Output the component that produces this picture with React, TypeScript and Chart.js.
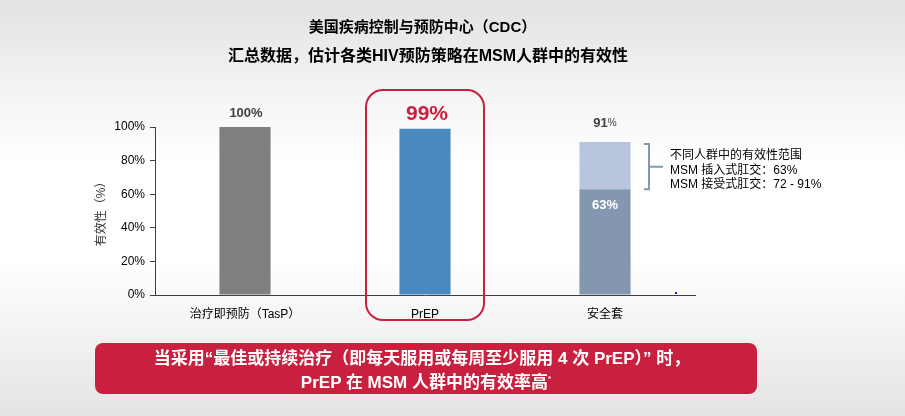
import { useEffect, useRef } from "react"
import { Chart, registerables } from "chart.js"

Chart.register(...registerables)

const categories = ["治疗即预防（TasP）", "PrEP", "安全套"]
const baseValues = [100, 99, 63]
const rangeValues = [null, null, 28]
const yTicks = [0, 20, 40, 60, 80, 100]
const rangeNotes = ["不同人群中的有效性范围", "MSM 插入式肛交：63%", "MSM 接受式肛交：72 - 91%"]

const FONT = "'Liberation Sans', 'Noto Sans CJK SC', sans-serif"
const RED = "#C8203E"

const overlayPlugin = {
  id: "overlay",
  afterDatasetsDraw(chart: any) {
    const { ctx, chartArea, scales } = chart
    const x = scales.x
    const y = scales.y
    ctx.save()
    ctx.textAlign = "center"
    ctx.textBaseline = "middle"

    // total labels above the bars
    const totals = baseValues.map((v, i) => v + (rangeValues[i] ?? 0))
    const x0 = x.getPixelForValue(0)
    ctx.fillStyle = "#404040"
    ctx.font = `bold 13px ${FONT}`
    ctx.fillText(`${totals[0]}%`, x0 + 1, y.getPixelForValue(totals[0]) - 14)

    const x1 = x.getPixelForValue(1)
    ctx.fillStyle = RED
    ctx.font = `bold 21px ${FONT}`
    ctx.fillText(`${totals[1]}%`, x1 + 2, y.getPixelForValue(totals[1]) - 14)

    const x2 = x.getPixelForValue(2)
    const ty = y.getPixelForValue(totals[2]) - 19
    ctx.font = `bold 13px ${FONT}`
    const numW = ctx.measureText(`${totals[2]}`).width
    ctx.font = `10px ${FONT}`
    const pW = ctx.measureText("%").width
    ctx.textAlign = "left"
    ctx.fillStyle = "#404040"
    ctx.font = `bold 13px ${FONT}`
    ctx.fillText(`${totals[2]}`, x2 - (numW + pW) / 2, ty)
    ctx.font = `10px ${FONT}`
    ctx.fillText("%", x2 - (numW + pW) / 2 + numW, ty)

    ctx.textAlign = "center"
    ctx.fillStyle = "#ffffff"
    ctx.font = `bold 13px ${FONT}`
    ctx.fillText(`${baseValues[2]}%`, x2, y.getPixelForValue(baseValues[2]) + 16)

    // red rounded frame around PrEP
    ctx.strokeStyle = RED
    ctx.lineWidth = 2
    ctx.beginPath()
    ctx.roundRect(x1 - 59, chartArea.top - 37, 118, chartArea.bottom - chartArea.top + 62, 17)
    ctx.stroke()

    // bracket next to the condom range
    const bTop = y.getPixelForValue(totals[2]) + 2
    const bBot = y.getPixelForValue(baseValues[2])
    const bx = x2 + 44
    ctx.strokeStyle = "#8497B0"
    ctx.lineWidth = 2
    ctx.beginPath()
    ctx.moveTo(bx - 5, bTop)
    ctx.lineTo(bx, bTop)
    ctx.lineTo(bx, bBot)
    ctx.lineTo(bx - 5, bBot)
    ctx.moveTo(bx, (bTop + bBot) / 2)
    ctx.lineTo(bx + 14, (bTop + bBot) / 2)
    ctx.stroke()

    ctx.textAlign = "left"
    ctx.fillStyle = "#000000"
    ctx.font = `12px ${FONT}`
    rangeNotes.forEach((t, i) => ctx.fillText(t, bx + 21, bTop + 12 + i * 14.5))

    ctx.fillStyle = "#2020e0"
    ctx.fillRect(x2 + 70, chartArea.bottom - 3, 2, 2)
    ctx.restore()
  },
}

const App = () => {
  const chartRef = useRef<HTMLCanvasElement>(null)
  const chartInstance = useRef<Chart | null>(null)

  useEffect(() => {
    if (!chartRef.current) return
    if (chartInstance.current) chartInstance.current.destroy()

    chartInstance.current = new Chart(chartRef.current, {
      type: "bar",
      data: {
        labels: categories,
        datasets: [
          {
            data: baseValues,
            backgroundColor: ["#7F7F7F", "#4A88C0", "#8497B0"],
            categoryPercentage: 1,
            barPercentage: 0.284,
          },
          {
            data: rangeValues,
            backgroundColor: "#B9C4DD",
            categoryPercentage: 1,
            barPercentage: 0.284,
          },
        ],
      },
      options: {
        animation: false,
        responsive: false,
        devicePixelRatio: 1,
        layout: { padding: { left: 86, right: 210, top: 127, bottom: 91 } },
        plugins: { legend: { display: false }, tooltip: { enabled: false } },
        scales: {
          x: {
            stacked: true,
            afterFit: (s: any) => {
              s.height = 30
            },
            grid: { display: false },
            border: { display: true, color: "#404040", width: 1 },
            ticks: { color: "#000", font: { family: FONT, size: 12 }, padding: 4 },
          },
          y: {
            stacked: true,
            min: 0,
            max: 100,
            afterFit: (s: any) => {
              s.width = 69
            },
            afterBuildTicks: (s: any) => {
              s.ticks = yTicks.map((v) => ({ value: v }))
            },
            grid: { drawOnChartArea: false, tickLength: 5, color: "#404040" },
            border: { display: true, color: "#404040", width: 1 },
            ticks: {
              color: "#000",
              font: { family: FONT, size: 12 },
              padding: 5,
              callback: (v: any) => `${v}%`,
            },
            title: {
              display: true,
              text: "有效性（%）",
              color: "#333",
              font: { family: FONT, size: 12 },
              padding: { top: 8, bottom: 0 },
            },
          },
        },
      },
      plugins: [overlayPlugin],
    })

    return () => {
      if (chartInstance.current) {
        chartInstance.current.destroy()
        chartInstance.current = null
      }
    }
  }, [])

  const wavy = { textDecoration: "underline wavy #d02020", textDecorationThickness: "1px" }

  return (
    <div
      style={{
        position: "fixed",
        left: 0,
        top: 0,
        width: 905,
        height: 416,
        overflow: "hidden",
        fontFamily: FONT,
        background:
          "linear-gradient(to bottom, #e2e2e2 0%, #f6f6f6 25%, #ffffff 40%, #ffffff 62%, #f4f4f4 78%, #e4e4e4 100%)",
      }}
    >
      <canvas ref={chartRef} width={905} height={416} style={{ position: "absolute", left: 0, top: 0 }} />
      <div
        style={{
          position: "absolute",
          left: 0,
          width: 845,
          top: 17,
          textAlign: "center",
          fontWeight: "bold",
          fontSize: 15,
          lineHeight: "20px",
          color: "#000",
        }}
      >
        美国疾病控制与预防中心（CDC）
      </div>
      <div
        style={{
          position: "absolute",
          left: 0,
          width: 856,
          top: 45,
          textAlign: "center",
          fontWeight: "bold",
          fontSize: 16,
          lineHeight: "22px",
          color: "#000",
        }}
      >
        汇总数据，估计各类HIV预防策略在MSM人群中的有效性
      </div>
      <div
        style={{
          position: "absolute",
          left: 95,
          top: 343,
          width: 662,
          height: 51,
          background: RED,
          borderRadius: 8,
          color: "#fff",
          fontWeight: "bold",
          fontSize: 17,
          lineHeight: "20px",
          textAlign: "center",
          paddingTop: 6,
          boxSizing: "border-box",
        }}
      >
        <div style={{ marginLeft: -8 }}>
          当采用“最佳或持续治疗（即每天服用或每周至少服用 4 次 <span style={wavy}>PrEP</span>）” 时，
        </div>
        <div>
          <span style={wavy}>PrEP</span> 在 MSM 人群中的有效率高<sup style={{ fontSize: 8 }}>*</sup>
        </div>
      </div>
    </div>
  )
}

export default App
